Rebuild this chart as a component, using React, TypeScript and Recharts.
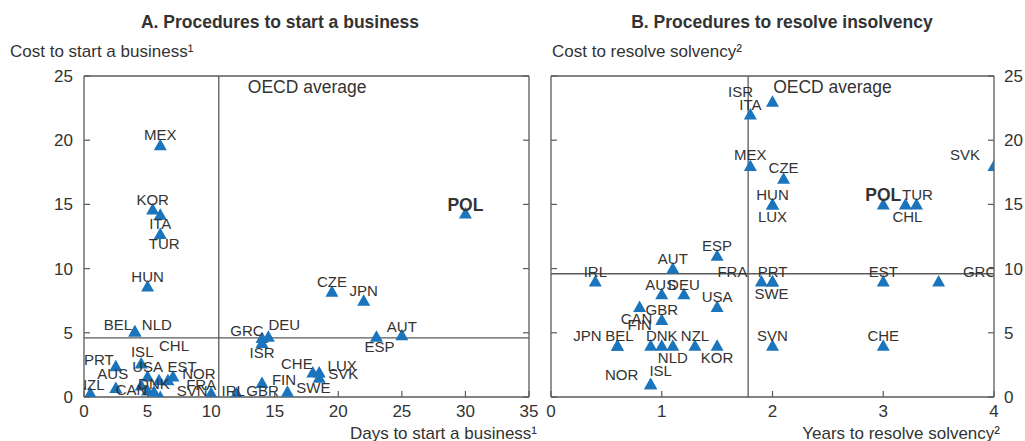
import React from "react";
import { ScatterChart, Scatter, XAxis, YAxis, ReferenceLine } from "recharts";

// Panel A: procedures to start a business
const countriesA = [
  "MEX", "KOR", "ITA", "TUR", "HUN", "BEL", "NLD", "PRT", "AUS", "NZL", "ISL", "USA",
  "CHL", "EST", "NOR", "FRA", "DNK", "CAN", "SVN", "IRL", "GBR", "GRC", "DEU", "ISR",
  "CZE", "JPN", "ESP", "AUT", "POL", "CHE", "LUX", "SVK", "FIN", "SWE",
];
const daysToStart = [
  6.0, 5.4, 6.0, 6.0, 5.0, 4.0, 4.0, 2.5, 2.5, 0.5, 4.5, 5.0,
  5.9, 7.0, 6.6, 4.5, 5.5, 5.0, 6.0, 10.0, 12.0, 14.0, 14.5, 14.0,
  19.5, 22.0, 23.0, 25.0, 30.0, 18.0, 18.5, 18.5, 14.0, 16.0,
];
const costToStart = [
  19.6, 14.6, 14.2, 12.7, 8.6, 5.1, 5.1, 2.4, 0.7, 0.3, 2.6, 1.6,
  1.3, 1.6, 1.3, 0.9, 0.4, 0.5, 0.0, 0.3, 0.3, 4.6, 4.7, 4.2,
  8.2, 7.5, 4.7, 4.8, 14.3, 1.9, 1.9, 1.5, 1.1, 0.4,
];
const oecdDaysToStart = 10.6;
const oecdCostToStart = 4.6;

// Panel B: procedures to resolve insolvency
const countriesB = [
  "ISR", "ITA", "MEX", "CZE", "HUN", "LUX", "SVK", "POL", "TUR", "CHL", "PRT", "SWE",
  "EST", "GRC", "SVN", "CHE", "ESP", "AUT", "FRA", "IRL", "AUS", "DEU", "USA", "GBR",
  "CAN", "FIN", "JPN", "BEL", "DNK", "NZL", "NLD", "KOR", "NOR", "ISL",
];
const yearsToResolve = [
  2.0, 1.8, 1.8, 2.1, 2.0, 2.0, 4.0, 3.0, 3.3, 3.2, 2.0, 2.0,
  3.0, 3.5, 2.0, 3.0, 1.5, 1.1, 1.9, 0.4, 1.0, 1.2, 1.5, 1.0,
  0.8, 0.9, 0.6, 0.6, 1.0, 1.3, 1.1, 1.5, 0.9, 0.9,
];
const costToResolve = [
  23, 22, 18, 17, 15, 15, 18, 15, 15, 15, 9, 9,
  9, 9, 4, 4, 11, 10, 9, 9, 8, 8, 7, 6,
  7, 4, 4, 4, 4, 4, 4, 4, 1, 1,
];
const oecdYearsToResolve = 1.78;
const oecdCostToResolve = 9.6;

const costTicks = [0, 5, 10, 15, 20, 25];
const daysTicks = [0, 5, 10, 15, 20, 25, 30, 35];
const yearsTicks = [0, 1, 2, 3, 4];

// label placement (pixel offset of label centre from the marker)
const labelOffsetA: Record<string, [number, number]> = {
  MEX: [0, -11], KOR: [0, -10], ITA: [0, 9], TUR: [4, 10], HUN: [0, -10],
  BEL: [-17, -7], NLD: [22, -7], PRT: [-17, -7], AUS: [-3, -14], NZL: [0, -9],
  ISL: [1, -12], USA: [0, -10], CHL: [15, -35], EST: [9, -10], NOR: [31, -7],
  FRA: [60, -1], DNK: [0, -8], CAN: [-16, -1], SVN: [32, -6], IRL: [22, -3],
  GBR: [26, -3], GRC: [-15, -7], DEU: [16, -12], ISR: [0, 10], CZE: [0, -10],
  JPN: [0, -10], ESP: [3, 10], AUT: [0, -9], POL: [0, -9], CHE: [-16, -9],
  LUX: [23, -7], SVK: [24, -4], FIN: [22, -3], SWE: [26, -4],
};
const labelOffsetB: Record<string, [number, number]> = {
  ISR: [-32, -10], ITA: [0, -10], MEX: [0, -11], CZE: [0, -11], HUN: [0, -10],
  LUX: [0, 12], SVK: [-29, -11], POL: [0, -10], TUR: [1, -10], CHL: [2, 12],
  PRT: [0, -10], SWE: [-1, 12], EST: [0, -10], GRC: [41, -10], SVN: [0, -10],
  CHE: [0, -10], ESP: [0, -10], AUT: [0, -10], FRA: [-29, -10], IRL: [0, -10],
  AUS: [-1, -10], DEU: [0, -10], USA: [0, -11], GBR: [0, -10], CAN: [-3, 11],
  FIN: [-11, -21], JPN: [-30, -10], BEL: [2, -10], DNK: [0, -10], NZL: [0, -10],
  NLD: [0, 12], KOR: [0, 12], NOR: [-29, -10], ISL: [10, -14],
};

const FONT = "'Liberation Sans', Arial, Helvetica, sans-serif";
const TEXT = "#333333";
const AXIS = "#5a5a5a";
const MARKER = "#1a75bc";

type Point = { code: string; x: number; y: number };

const toPoints = (codes: string[], xs: number[], ys: number[]): Point[] =>
  codes.map((code, i) => ({ code, x: xs[i], y: ys[i] }));

const pointsA = toPoints(countriesA, daysToStart, costToStart);
const pointsB = toPoints(countriesB, yearsToResolve, costToResolve);

const Triangle = (props: any) => {
  const { cx, cy } = props;
  if (cx == null || cy == null) return null;
  return (
    <path
      d={`M${cx},${cy - 6.5}L${cx + 6.5},${cy + 5}L${cx - 6.5},${cy + 5}Z`}
      fill={MARKER}
    />
  );
};

const makeCountryLabel = (offsets: Record<string, [number, number]>) => (props: any) => {
  const { cx, cy, payload } = props;
  if (cx == null || cy == null) return null;
  const [dx, dy] = offsets[payload.code] ?? [0, -10];
  const bold = payload.code === "POL";
  return (
    <text
      x={cx + dx}
      y={cy + dy + (bold ? 6.2 : 5.4)}
      textAnchor="middle"
      fontSize={bold ? 17.5 : 15}
      fontWeight={bold ? 700 : 400}
      fill={TEXT}
      fontFamily={FONT}
    >
      {payload.code}
    </text>
  );
};

const BottomTick = (props: any) => {
  const { x, y, payload } = props;
  return (
    <g>
      <line x1={x} x2={x} y1={y} y2={y - 6} stroke={AXIS} strokeWidth={1.2} />
      <text x={x} y={y + 20} textAnchor="middle" fontSize={17} fill={TEXT} fontFamily={FONT}>
        {payload.value}
      </text>
    </g>
  );
};

const LeftTick = (showLabel: boolean) => (props: any) => {
  const { x, y, payload } = props;
  return (
    <g>
      <line x1={x} x2={x + 6} y1={y} y2={y} stroke={AXIS} strokeWidth={1.2} />
      {showLabel && (
        <text x={x - 11} y={y + 6} textAnchor="end" fontSize={17} fill={TEXT} fontFamily={FONT}>
          {payload.value}
        </text>
      )}
    </g>
  );
};

const RightTick = (showLabel: boolean) => (props: any) => {
  const { x, y, payload } = props;
  return (
    <g>
      <line x1={x} x2={x - 6} y1={y} y2={y} stroke={AXIS} strokeWidth={1.2} />
      {showLabel && (
        <text x={x + 10} y={y + 6} textAnchor="start" fontSize={17} fill={TEXT} fontFamily={FONT}>
          {payload.value}
        </text>
      )}
    </g>
  );
};

const oecdLabel = (dx: number) => (props: any) => {
  const vb = props.viewBox || {};
  return (
    <text x={vb.x + dx} y={vb.y + 17} fontSize={17.5} fill={TEXT} fontFamily={FONT}>
      OECD average
    </text>
  );
};

type PanelProps = {
  data: Point[];
  xTicks: number[];
  xMax: number;
  avgX: number;
  avgY: number;
  width: number;
  leftWidth: number;
  rightWidth: number;
  labelsOnLeft: boolean;
  offsets: Record<string, [number, number]>;
  oecdDx: number;
};

function Panel({
  data, xTicks, xMax, avgX, avgY, width, leftWidth, rightWidth, labelsOnLeft, offsets, oecdDx,
}: PanelProps) {
  return (
    <ScatterChart width={width} height={441} margin={{ top: 76, right: 0, bottom: 0, left: 0 }}>
      <XAxis
        type="number"
        dataKey="x"
        domain={[0, xMax]}
        ticks={xTicks}
        allowDataOverflow
        height={44}
        tickSize={0}
        tickMargin={0}
        tickLine={false}
        axisLine={{ stroke: AXIS, strokeWidth: 1.3 }}
        tick={<BottomTick />}
        interval={0}
      />
      <YAxis
        yAxisId="left"
        type="number"
        dataKey="y"
        domain={[0, 25]}
        ticks={costTicks}
        allowDataOverflow
        width={leftWidth}
        tickSize={0}
        tickMargin={0}
        tickLine={false}
        axisLine={{ stroke: AXIS, strokeWidth: 1.3 }}
        tick={LeftTick(labelsOnLeft)}
        interval={0}
      />
      <YAxis
        yAxisId="right"
        orientation="right"
        type="number"
        domain={[0, 25]}
        ticks={costTicks}
        allowDataOverflow
        width={rightWidth}
        tickSize={0}
        tickMargin={0}
        tickLine={false}
        axisLine={{ stroke: AXIS, strokeWidth: 1.3 }}
        tick={RightTick(!labelsOnLeft)}
        interval={0}
      />
      <ReferenceLine yAxisId="left" y={25} stroke={AXIS} strokeWidth={1.3} />
      <ReferenceLine
        yAxisId="left"
        x={avgX}
        stroke={AXIS}
        strokeWidth={1.3}
        label={oecdLabel(oecdDx)}
      />
      <ReferenceLine yAxisId="left" y={avgY} stroke={AXIS} strokeWidth={1.3} />
      <Scatter
        yAxisId="left"
        data={data}
        shape={Triangle}
        isAnimationActive={false}
      />
      <Scatter
        yAxisId="left"
        data={data}
        shape={makeCountryLabel(offsets)}
        isAnimationActive={false}
      />
    </ScatterChart>
  );
}

export default function App() {
  return (
    <div
      style={{
        position: "absolute",
        left: 0,
        top: 0,
        width: 1025,
        height: 441,
        background: "#ffffff",
        fontFamily: FONT,
      }}
    >
      <div style={{ position: "absolute", left: 0, top: 0 }}>
        <Panel
          data={pointsA}
          xTicks={daysTicks}
          xMax={35}
          avgX={oecdDaysToStart}
          avgY={oecdCostToStart}
          width={540}
          leftWidth={84}
          rightWidth={11}
          labelsOnLeft
          offsets={labelOffsetA}
          oecdDx={29}
        />
      </div>
      <div style={{ position: "absolute", left: 540, top: 0 }}>
        <Panel
          data={pointsB}
          xTicks={yearsTicks}
          xMax={4}
          avgX={oecdYearsToResolve}
          avgY={oecdCostToResolve}
          width={485}
          leftWidth={11}
          rightWidth={31}
          labelsOnLeft={false}
          offsets={labelOffsetB}
          oecdDx={25}
        />
      </div>
      <svg
        width={1025}
        height={441}
        style={{ position: "absolute", left: 0, top: 0, pointerEvents: "none" }}
      >
        <g fontFamily={FONT} fill={TEXT}>
          <text x={280} y={28} textAnchor="middle" fontSize={17.5} fontWeight={700}>
            A. Procedures to start a business
          </text>
          <text x={782} y={28} textAnchor="middle" fontSize={17.5} fontWeight={700}>
            B. Procedures to resolve insolvency
          </text>
          <text x={10} y={56.5} fontSize={17}>
            Cost to start a business¹
          </text>
          <text x={552} y={56.5} fontSize={17}>
            Cost to resolve solvency²
          </text>
          <text x={537} y={439} textAnchor="end" fontSize={17}>
            Days to start a business¹
          </text>
          <text x={1000} y={439} textAnchor="end" fontSize={17}>
            Years to resolve solvency²
          </text>
        </g>
      </svg>
    </div>
  );
}
